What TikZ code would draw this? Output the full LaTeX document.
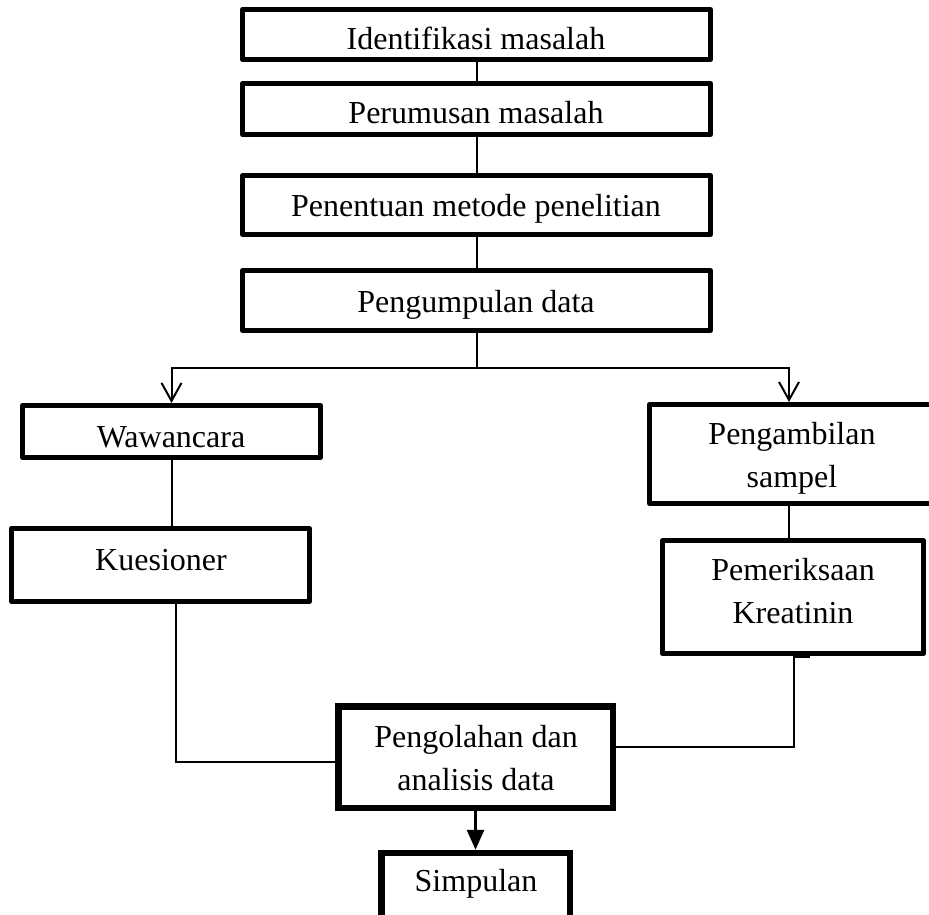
\documentclass[tikz,border=0pt]{standalone}
\usepackage{fontspec}
\setmainfont{Liberation Serif}
\usetikzlibrary{arrows.meta}
\begin{document}
\begin{tikzpicture}[x=0.5pt,y=-0.5pt,
  box/.style={draw, line width=2.5pt, line join=round, inner sep=0pt, minimum width=234pt},
  heavybox/.style={draw, line width=3.25pt, inner sep=0pt},
  txt/.style={font=\fontsize{16}{21.5}\selectfont, inner sep=0pt, anchor=base, align=center},
  conn/.style={line width=1pt},
  barb/.style={line width=1pt, -{Straight Barb[length=9pt,width=10pt]}},
  tri/.style={line width=1.5pt, -{Triangle[length=10pt,width=8.5pt]}}
]
\useasboundingbox (0,0) rectangle (929,914);
\clip (0,0) rectangle (929,914);

% boxes
\node[box, minimum height=25pt] (b1) at (476.5,34.5) {};
\node[box, minimum height=25.5pt] (b2) at (476.5,109) {};
\node[box, minimum height=29.5pt] (b3) at (476.5,205) {};
\node[box, minimum height=30pt] (b4) at (476.5,300.5) {};
\node[box, minimum width=149pt, minimum height=26pt] (wa) at (171.5,431.5) {};
\node[box, minimum width=149pt, minimum height=36.5pt] (ku) at (160.5,565) {};
\node[box, minimum width=144pt, minimum height=49.5pt] (pa) at (793.5,454) {};
\node[box, minimum width=130.5pt, minimum height=56.5pt] (pe) at (793,597) {};
\node[heavybox, minimum width=137.25pt, minimum height=50.75pt] (po) at (475.5,757) {};
\node[heavybox, minimum width=94.25pt, minimum height=36pt] (si) at (475.5,889) {};

% texts
\node[txt] (t1) at (476,50) {Identifikasi masalah};
\node[txt] (t2) at (476,124) {Perumusan masalah};
\node[txt] (t3) at (476,217) {Penentuan metode penelitian};
\node[txt] (t4) at (476,312) {Pengumpulan data};
\node[txt] (t5) at (171,447) {Wawancara};
\node[txt] (t6) at (161,570) {Kuesioner};
\node[txt] (t7) at (792,487) {Pengambilan\\sampel};
\node[txt] (t8) at (793,623) {Pemeriksaan\\Kreatinin};
\node[txt] (t9) at (476,790) {Pengolahan dan\\analisis data};
\node[txt] (t10) at (476,891) {Simpulan};

% connectors
\draw[conn] (b1.south) -- (b2.north);
\draw[conn] (b2.south) -- (b3.north);
\draw[conn] (b3.south) -- (b4.north);
\coordinate (split) at (476.5,368);
\coordinate (ax) at (789,0);
\draw[conn] (b4.south) -- (split);
\draw[barb] (split) -| (wa.north);
\draw[barb] (split) -| (pa.north -| ax);
\draw[conn] (wa.south) -- (wa.south |- ku.north);
\draw[conn] (pa.south -| ax) -- (ax |- pe.north);
\coordinate (kl) at (176,762);
\draw[conn] (kl |- ku.south) -- (kl) -- (kl -| po.west);
\coordinate (pr) at (794,747);
\draw[conn] (pr |- pe.south) -- (pr) -- (pr -| po.east);
\coordinate (stubA) at (794,657);
\coordinate (stubB) at (810,657);
\draw[line width=1.25pt] (stubA) -- (stubB);
\draw[tri] (po.south) -- (si.north);
\end{tikzpicture}
\end{document}
